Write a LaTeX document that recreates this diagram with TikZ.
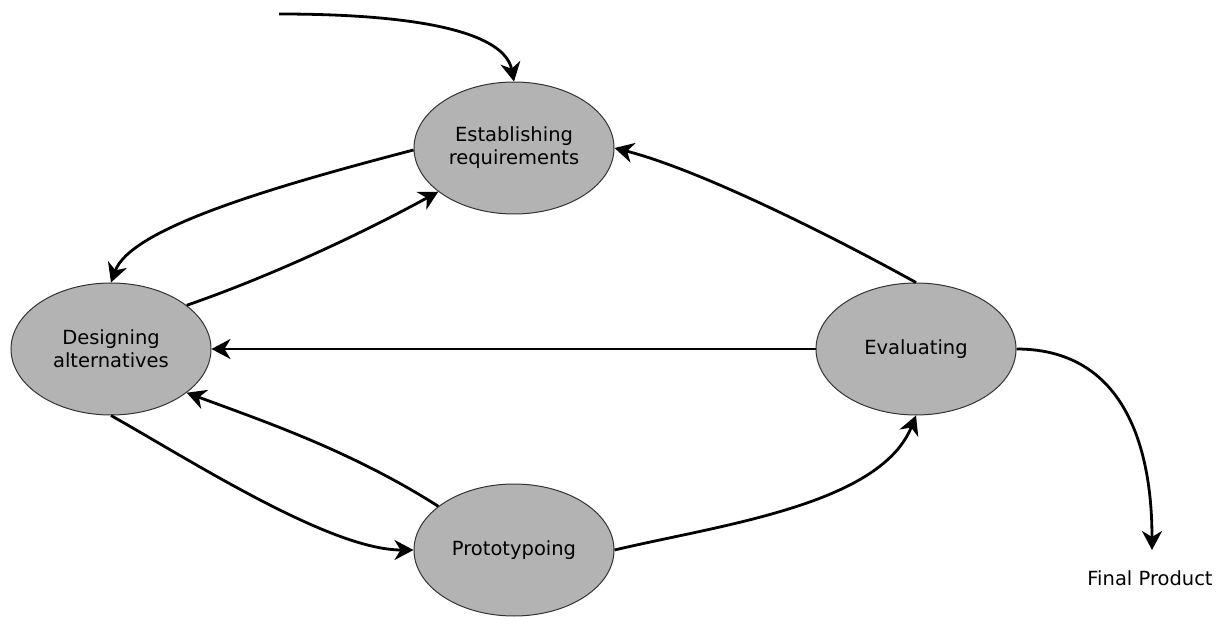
\documentclass[tikz,border=0pt]{standalone}
\usepackage{fontspec}
\setmainfont{DejaVu Sans}
\usetikzlibrary{shapes.geometric,arrows.meta}
\definecolor{nodegray}{HTML}{B3B3B3}
\definecolor{edgegray}{HTML}{333333}
\tikzset{
  stage/.style={ellipse, draw=edgegray, line width=1pt, fill=nodegray,
    minimum width=200pt, minimum height=132pt, inner sep=0pt, align=center,
    font=\fontsize{19.5}{23}\selectfont},
  flow/.style={line width=2.8pt, -{Stealth[length=19pt,width=20pt,inset=6pt]}},
  lbl/.style={font=\fontsize{19.5}{23}\selectfont, inner sep=0pt}
}
\begin{document}
\begin{tikzpicture}[x=1pt,y=-1pt]
\path[use as bounding box] (0,0) rectangle (1223,617);
\node[stage] (est) at (514,148) {Establishing\\requirements};
\node[stage] (des) at (111,349) {Designing\\alternatives};
\node[stage] (eva) at (916,349) {Evaluating};
\node[stage] (pro) at (514,550) {Prototypoing};
\node[lbl] (fin) at (1150,578) {Final Product};
\coordinate (start) at (279,14);
\coordinate (finend) at (1152,550);

\draw[flow] (start) .. controls (430,14) and (505,35) .. (est.north);
\draw[flow] (est.west) ++(0,2) .. controls (260,190) and (130,230) .. (des.north);
\draw[flow] (des.30) .. controls (260,280) and (350,240) .. (est.210);
\draw[flow] (eva.north) .. controls (830,235) and (700,170) .. (est.east);
\draw[flow] (eva.west) -- (des.east);
\draw[flow] (pro.150) .. controls (350,450) and (260,420) .. (des.-30);
\draw[flow] (des.south) .. controls (190,460) and (330,550) .. (pro.west);
\draw[flow] (pro.east) .. controls (720,525) and (880,505) .. (eva.-90);
\draw[flow] (eva.east) .. controls (1120,349) and (1152,440) .. (finend);
\end{tikzpicture}
\end{document}
